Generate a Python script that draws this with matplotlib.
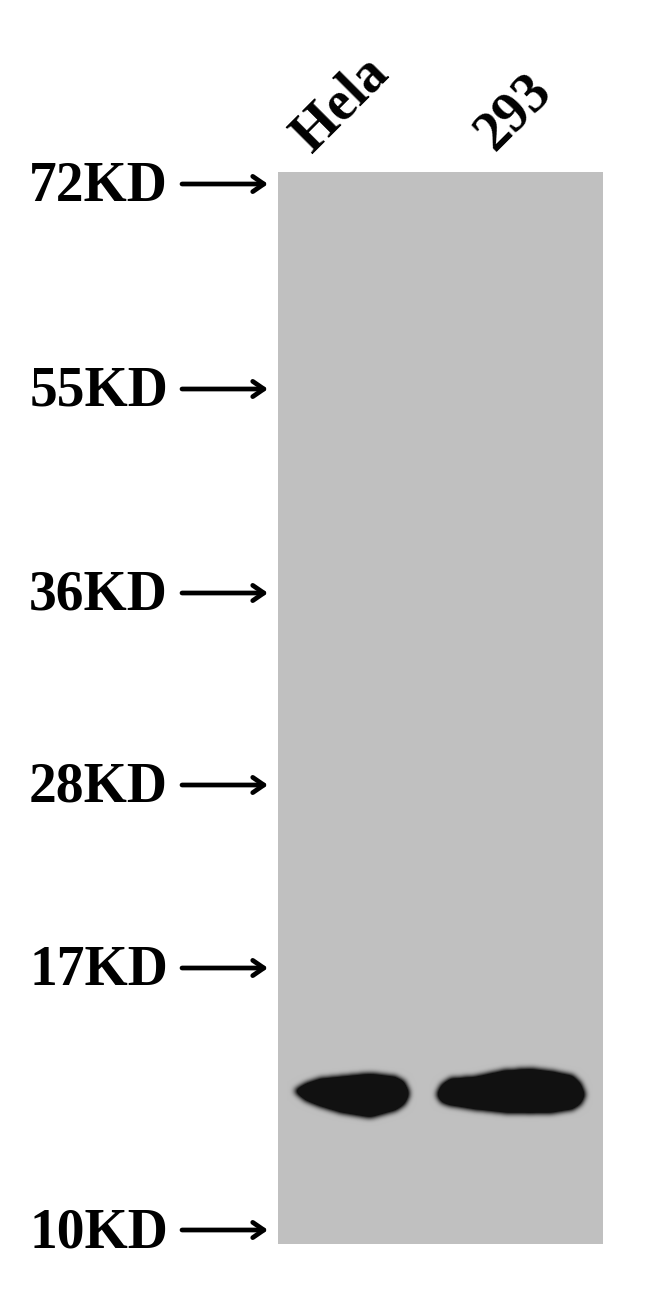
import numpy as np
import matplotlib
matplotlib.use("Agg")
import matplotlib.pyplot as plt

# marker ladder (label, y position of arrow in image pixels)
marker_labels = ["72KD", "55KD", "36KD", "28KD", "17KD", "10KD"]
marker_y = [184, 389, 593, 785, 968, 1230]

# lanes
lanes = ["Hela", "293"]
lane_label_x = [312, 494]
lane_label_y = [154, 152]

# gel area
gel_left, gel_right = 278, 603
gel_top, gel_bottom = 172, 1244
gel_gray = 0.75

# band outlines (x, top edge, bottom edge)
hela_x = [295, 305, 320, 340, 370, 395, 404, 408]
hela_top = [1089, 1083, 1078, 1076, 1073, 1076, 1081, 1090]
hela_bot = [1092, 1100, 1106, 1112, 1117, 1110, 1104, 1096]

b293_x = [437, 441, 450, 475, 503, 530, 553, 572, 580, 584]
b293_top = [1092, 1084, 1078, 1076, 1070, 1068, 1071, 1075, 1082, 1092]
b293_bot = [1096, 1102, 1105, 1109, 1112, 1113, 1112, 1109, 1104, 1096]

bands = [(hela_x, hela_top, hela_bot), (b293_x, b293_top, b293_bot)]

# build gel image
W = gel_right - gel_left
H = gel_bottom - gel_top
mask = np.zeros((H, W))
yy = np.arange(H) + gel_top
for bx, bt, bb in bands:
    for x in range(int(bx[0]), int(bx[-1]) + 1):
        t = np.interp(x, bx, bt)
        b = np.interp(x, bx, bb)
        col = x - gel_left
        mask[(yy >= t) & (yy <= b), col] = 1.0

# soften edges with a few box blurs
k = np.ones(5) / 5
for _ in range(4):
    mask = np.apply_along_axis(lambda r: np.convolve(r, k, mode="same"), 0, mask)
    mask = np.apply_along_axis(lambda r: np.convolve(r, k, mode="same"), 1, mask)
mask = np.clip(mask * 1.7, 0, 1)
img = gel_gray * (1 - mask) + 0.07 * mask

fig = plt.figure(figsize=(6.5, 12.9), dpi=100)
ax = fig.add_axes([0, 0, 1, 1])
ax.set_xlim(0, 650)
ax.set_ylim(1290, 0)
ax.axis("off")

ax.imshow(img, cmap="gray", vmin=0, vmax=1, interpolation="bilinear",
          extent=[gel_left, gel_right, gel_bottom, gel_top], aspect="auto")

font = dict(family=["Liberation Serif", "DejaVu Serif"], weight="bold")

for lab, y in zip(marker_labels, marker_y):
    ax.text(168, y + 3, lab, ha="right", va="center", fontsize=40, **font)
    ax.annotate("", xy=(268, y), xytext=(182, y),
                arrowprops=dict(arrowstyle="->,head_length=0.8,head_width=0.55",
                                lw=3.4, color="black", shrinkA=0, shrinkB=0))

for lab, x, y in zip(lanes, lane_label_x, lane_label_y):
    ax.text(x, y, lab, rotation=45, ha="left", va="baseline",
            rotation_mode="anchor", fontsize=40, **font)

fig.savefig("out.png", dpi=100)
